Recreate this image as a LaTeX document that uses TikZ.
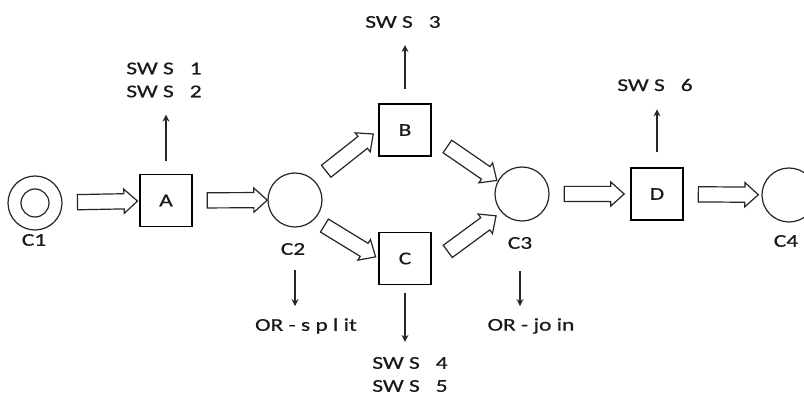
\documentclass[tikz,border=0pt]{standalone}
\usepackage{fontspec}
\newfontfamily\lblfont[FakeStretch=1.3,FakeBold=0.6]{Carlito}
\usetikzlibrary{shapes.arrows,arrows.meta}

\begin{document}
\begin{tikzpicture}[x=1pt,y=-1pt,
  lbl/.style={font=\lblfont\fontsize{18}{23}\selectfont, text=black!90, inner sep=0pt},
  place/.style={circle, draw=black!85, line width=1.2pt, minimum size=54pt, inner sep=0pt},
  task/.style={lbl, draw=black, line width=1.4pt, minimum width=52pt, minimum height=52pt},
  flow/.style={single arrow, draw=black!85, line width=1.2pt, minimum height=60pt,
    minimum width=0pt, inner xsep=0pt, inner ysep=7pt,
    single arrow head extend=4.5pt, single arrow tip angle=84,
    sloped, allow upside down},
  note/.style={draw=black!85, line width=1.3pt, -{Stealth[length=7pt,width=7pt]}},
]
% canvas
\fill[white] (0,0) rectangle (804,395);
\useasboundingbox (0,0) rectangle (804,395);

% places and tasks
\node[place] (C1) at (35,203) {};
\node[place, minimum size=28pt] (C1in) at (C1) {};
\node[lbl] (C1lab) at (34,240) {C1};
\node[task] (A) at (166,200.5) {A};
\node[place] (C2) at (295,200) {};
\node[lbl] (C2lab) at (293,249) {C2};
\node[task] (B) at (405,130) {B};
\node[task] (C) at (405,258.5) {C};
\node[place] (C3) at (522,194) {};
\node[lbl] (C3lab) at (520,243) {C3};
\node[task] (D) at (657,194) {D};
\node[place] (C4) at (789,195) {};
\node[lbl] (C4lab) at (786,241) {C4};

% service annotations
\node[lbl, align=left] (sws12) at (164,80) {SW S\hspace{16pt}1\\SW S\hspace{16pt}2};
\node[lbl] (sws3) at (403,22) {SW S\hspace{16pt}3};
\node[lbl] (sws6) at (655,85) {SW S\hspace{16pt}6};
\node[lbl, align=left] (sws45) at (410,374.5) {SW S\hspace{16pt}4\\SW S\hspace{16pt}5};
\node[lbl] (orsplit) at (306,326) {OR - s p l it};
\node[lbl] (orjoin) at (531,326) {OR - jo in};

% block flow arrows
\path (C1) -- node[flow, pos=0.53] {} (A);
\path (A) -- node[flow, pos=0.54] {} (C2);
\path (C2.45) -- node[flow] {} (B.west);
\path (C2.-45) -- node[flow] {} (C.west);
\path (B.-12) -- node[flow, pos=0.56] {} (C3.152);
\path (C.-10) -- node[flow, pos=0.53] {} (C3.221);
\path (C3) -- node[flow] {} (D);
\path (D) -- node[flow, pos=0.52] {} (C4);

% annotation arrows
\draw[note, shorten <=12.5pt, shorten >=17pt] (A.north) -- (A.north |- sws12.south);
\draw[note, shorten <=14pt, shorten >=17pt] (B.north) -- (B.north |- sws3.south);
\draw[note, shorten <=15pt, shorten >=18pt] (D.north) -- (D.north |- sws6.south);
\draw[note, shorten <=15pt, shorten >=12pt] (C2.south |- C2lab.south) -- (C2.south |- orsplit.north);
\draw[note, shorten <=8pt, shorten >=15pt] (C.south) -- (C.south |- sws45.north);
\draw[note, shorten <=22pt, shorten >=12pt] (C3lab.south) -- (C3lab.south |- orjoin.north);
\end{tikzpicture}
\end{document}
